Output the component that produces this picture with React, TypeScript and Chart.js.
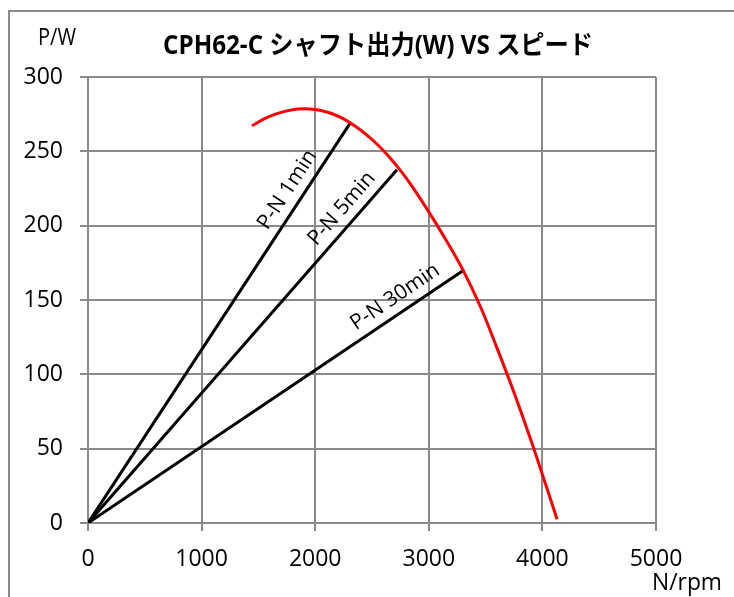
import { useEffect, useRef } from 'react';
import { Chart, registerables } from 'chart.js';

Chart.register(...registerables);

// ---- data ----
const chartTitle = 'CPH62-C シャフト出力(W) VS スピード';
const yAxisName = 'P/W';
const xAxisName = 'N/rpm';

const xTicks = [0, 1000, 2000, 3000, 4000, 5000];
const yTicks = [0, 50, 100, 150, 200, 250, 300];

// red shaft-output curve (speed rpm, power W)
const curveSpeed = [1443, 1550, 1650, 1750, 1850, 1950, 2050, 2150, 2250, 2350, 2450, 2550, 2650, 2750, 2850, 3000, 3150, 3300, 3450, 3600, 3750, 3900, 4050, 4129];
const curvePower = [267.2, 271.8, 275.0, 277.2, 278.4, 278.5, 277.5, 275.3, 271.8, 267.0, 261.2, 254.4, 246.4, 237.2, 226.8, 209.3, 190.5, 170.3, 146.3, 117.8, 87.8, 55.5, 21.0, 2.5];

// P-N straight lines from origin
const lineLabels = ['P-N 1min', 'P-N 5min', 'P-N 30min'];
const lineEndSpeed = [2312, 2720, 3313];
const lineEndPower = [269.5, 237.6, 170.4];

const GRID = '#8a8a8a';
const TICK_FONT = "'Open Sans', sans-serif";

function drawFitted(ctx: CanvasRenderingContext2D, text: string, cx: number, baseline: number, width: number, font: string) {
  ctx.save();
  ctx.font = font;
  ctx.textAlign = 'center';
  ctx.textBaseline = 'alphabetic';
  ctx.fillStyle = '#000';
  const w = ctx.measureText(text).width;
  const s = width / w;
  ctx.translate(cx, baseline);
  ctx.scale(s, 1);
  ctx.fillText(text, 0, 0);
  ctx.restore();
}

const labelT = [0.81, 0.86, 0.84];
const labelOffset = 16;

const annotatePlugin = {
  id: 'annotate',
  afterDatasetsDraw(chart: any) {
    const ctx: CanvasRenderingContext2D = chart.ctx;
    const xs = chart.scales.x;
    const ys = chart.scales.y;
    const x0 = xs.getPixelForValue(0);
    const y0 = ys.getPixelForValue(0);
    lineLabels.forEach((lab, i) => {
      const x1 = xs.getPixelForValue(lineEndSpeed[i]);
      const y1 = ys.getPixelForValue(lineEndPower[i]);
      const dx = x1 - x0;
      const dy = y1 - y0;
      const len = Math.hypot(dx, dy);
      const nx = dy / len;
      const ny = -dx / len;
      const cx = x0 + dx * labelT[i] + nx * labelOffset;
      const cy = y0 + dy * labelT[i] + ny * labelOffset;
      ctx.save();
      ctx.translate(cx, cy);
      ctx.rotate(Math.atan2(dy, dx));
      ctx.font = `21px ${TICK_FONT}`;
      ctx.fillStyle = '#000';
      ctx.textAlign = 'center';
      ctx.textBaseline = 'middle';
      ctx.fillText(lab, 0, 0);
      ctx.restore();
    });
  },
  afterDraw(chart: any) {
    const ctx: CanvasRenderingContext2D = chart.ctx;
    drawFitted(ctx, chartTitle, 378, 54, 430, "bold 26px 'Open Sans', 'Noto Sans CJK JP', sans-serif");
    drawFitted(ctx, yAxisName, 57, 45, 38, `23px ${TICK_FONT}`);
    drawFitted(ctx, xAxisName, 687, 590, 70, `23px ${TICK_FONT}`);
  },
};

export default function App() {
  const ref = useRef<HTMLCanvasElement | null>(null);

  useEffect(() => {
    if (!ref.current) return;
    const datasets: any[] = [
      {
        label: 'curve',
        data: curveSpeed.map((s, i) => ({ x: s, y: curvePower[i] })),
        borderColor: '#ff0000',
        borderWidth: 3,
        pointRadius: 0,
        tension: 0.4,
        fill: false,
      },
      ...lineLabels.map((lab, i) => ({
        label: lab,
        data: [
          { x: 0, y: 0 },
          { x: lineEndSpeed[i], y: lineEndPower[i] },
        ],
        borderColor: '#000000',
        borderWidth: 3,
        pointRadius: 0,
        fill: false,
      })),
    ];

    const chart = new Chart(ref.current, {
      type: 'line',
      data: { datasets },
      plugins: [annotatePlugin],
      options: {
        animation: false,
        responsive: false,
        devicePixelRatio: 1,
        layout: { padding: { left: 0, right: 78, top: 77, bottom: 0 } },
        plugins: { legend: { display: false }, title: { display: false }, tooltip: { enabled: false } },
        scales: {
          x: {
            type: 'linear',
            min: xTicks[0],
            max: xTicks[xTicks.length - 1],
            afterBuildTicks: (s: any) => {
              s.ticks = xTicks.map((v) => ({ value: v }));
            },
            afterFit: (s: any) => {
              s.height = 74;
            },
            grid: { color: GRID, lineWidth: 2, tickLength: 8, drawTicks: true },
            border: { color: GRID, width: 2 },
            ticks: {
              color: '#000',
              font: { family: TICK_FONT, size: 23 },
              padding: 15,
              maxRotation: 0,
              autoSkip: false,
              callback: (v: any) => String(v),
            },
          },
          y: {
            type: 'linear',
            min: yTicks[0],
            max: yTicks[yTicks.length - 1],
            afterBuildTicks: (s: any) => {
              s.ticks = yTicks.map((v) => ({ value: v }));
            },
            afterFit: (s: any) => {
              s.width = 88;
            },
            grid: { color: GRID, lineWidth: 2, tickLength: 8, drawTicks: true },
            border: { color: GRID, width: 2 },
            ticks: {
              color: '#000',
              font: { family: TICK_FONT, size: 23 },
              padding: 17,
              autoSkip: false,
              callback: (v: any) => String(v),
            },
          },
        },
      } as any,
    });
    return () => chart.destroy();
  }, []);

  return (
    <div style={{ position: 'fixed', left: 0, top: 0, width: 734, height: 597, overflow: 'hidden', background: '#fff' }}>
      <canvas ref={ref} width={734} height={597} style={{ position: 'absolute', left: 0, top: 0, width: 734, height: 597 }} />
      <div
        style={{
          position: 'absolute',
          left: 8,
          top: 10,
          width: 800,
          height: 700,
          borderLeft: `2px solid ${GRID}`,
          borderTop: `2px solid ${GRID}`,
          pointerEvents: 'none',
        }}
      />
    </div>
  );
}
